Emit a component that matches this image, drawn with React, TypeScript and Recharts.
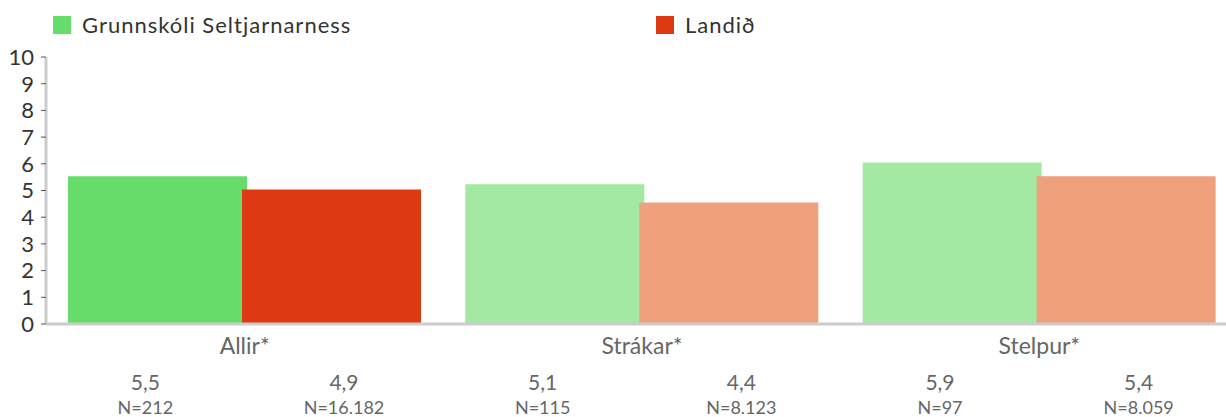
import { BarChart, Bar, XAxis, YAxis, Legend, Cell } from 'recharts';

const categories = ['Allir*', 'Strákar*', 'Stelpur*'];
const seriesNames = ['Grunnskóli Seltjarnarness', 'Landið'];
// bar heights as drawn
const skoliBars = [5.53, 5.23, 6.05];
const landidBars = [5.04, 4.55, 5.53];
// printed means and counts under the axis
const skoliMean = [5.5, 5.1, 5.9];
const landidMean = [4.9, 4.4, 5.4];
const skoliN = ['212', '115', '97'];
const landidN = ['16.182', '8.123', '8.059'];
const yTicks = [0, 1, 2, 3, 4, 5, 6, 7, 8, 9, 10];

const FONT = 'Lato, "Open Sans", sans-serif';
const GREEN = '#66dc6a';
const GREEN_LIGHT = '#a3e9a3';
const RED = '#dd3913';
const RED_LIGHT = '#eea17c';

// plot runs a bit past the visible right edge, like the original
const CHART_W = 1238;
const AXIS_W = 46;
const BAND = (CHART_W - AXIS_W) / categories.length;

const data = categories.map((c, i) => ({
  name: c,
  skoli: skoliBars[i],
  landid: landidBars[i],
  skoliMean: skoliMean[i],
  landidMean: landidMean[i],
  skoliN: skoliN[i],
  landidN: landidN[i],
}));

const fmt = (v: number) => v.toFixed(1).replace('.', ',');

function CategoryTick(props: any) {
  const { x, y, payload, index } = props;
  const row = data[index] ?? data.find(d => d.name === payload.value);
  const off = BAND / 4;
  return (
    <g fontFamily={FONT} fill="#666">
      <text x={x} y={y + 22} textAnchor="middle" fontSize={23} fill="#666">{payload.value}</text>
      <text x={x - off} y={y + 58} textAnchor="middle" fontSize={21} fill="#666">{fmt(row.skoliMean)}</text>
      <text x={x + off} y={y + 58} textAnchor="middle" fontSize={21} fill="#666">{fmt(row.landidMean)}</text>
      <text x={x - off} y={y + 82} textAnchor="middle" fontSize={18} fill="#666">N={row.skoliN}</text>
      <text x={x + off} y={y + 82} textAnchor="middle" fontSize={18} fill="#666">N={row.landidN}</text>
    </g>
  );
}

function LegendBox() {
  const items = [
    { label: seriesNames[0], color: GREEN, left: 53 },
    { label: seriesNames[1], color: RED, left: 656 },
  ];
  return (
    <div style={{ position: 'relative', height: 50, fontFamily: FONT }}>
      {items.map(it => (
        <div key={it.label} style={{ position: 'absolute', left: it.left, top: 11, display: 'flex', alignItems: 'center' }}>
          <span style={{ width: 18, height: 18, background: it.color, display: 'inline-block', marginRight: 11 }} />
          <span style={{ fontSize: 22, color: '#333', letterSpacing: 1 }}>{it.label}</span>
        </div>
      ))}
    </div>
  );
}

export default function App() {
  return (
    <div style={{ position: 'absolute', left: 0, top: 0, width: 1226, height: 417, overflow: 'hidden', background: '#fff' }}>
      <BarChart
        width={CHART_W}
        height={417}
        data={data}
        margin={{ top: 7, right: 0, bottom: 0, left: 0 }}
        barCategoryGap={22}
        barGap={-5}
      >
        <Legend
          verticalAlign="top"
          content={() => <LegendBox />}
          wrapperStyle={{ top: 0, left: 0, width: 1226, height: 50 }}
        />
        <XAxis
          dataKey="name"
          height={93}
          tickLine={false}
          axisLine={{ stroke: '#cccccc', strokeWidth: 3 }}
          tick={<CategoryTick />}
          interval={0}
        />
        <YAxis
          width={AXIS_W}
          domain={[0, 10]}
          ticks={yTicks}
          interval={0}
          tickSize={5}
          tickMargin={7}
          tickLine={{ stroke: '#555' }}
          axisLine={{ stroke: '#cccccc', strokeWidth: 3 }}
          tick={{ fontSize: 22, fill: '#333', fontFamily: FONT }}
        />
        <Bar dataKey="skoli" isAnimationActive={false}>
          {data.map((_, i) => (
            <Cell key={i} fill={i === 0 ? GREEN : GREEN_LIGHT} />
          ))}
        </Bar>
        <Bar dataKey="landid" isAnimationActive={false}>
          {data.map((_, i) => (
            <Cell key={i} fill={i === 0 ? RED : RED_LIGHT} />
          ))}
        </Bar>
      </BarChart>
    </div>
  );
}
